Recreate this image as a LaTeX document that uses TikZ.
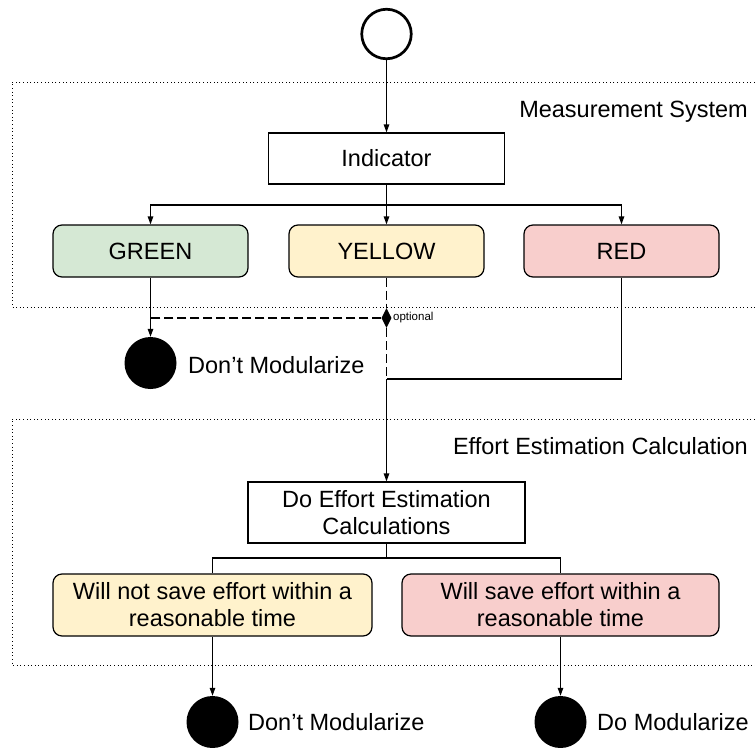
\documentclass[tikz,border=0pt]{standalone}
\usepackage{fontspec}
\setmainfont{Liberation Sans}
\usetikzlibrary{arrows.meta,shapes.geometric}
\definecolor{gfill}{HTML}{D5E8D4}
\definecolor{yfill}{HTML}{FFF2CC}
\definecolor{rfill}{HTML}{F8CECC}
\begin{document}
\begin{tikzpicture}[x=1pt,y=-1pt,
  every node/.style={font=\fontsize{23.5}{27}\selectfont},
  box/.style={draw, line width=1.2pt, inner sep=0pt, align=center},
  rbox/.style={box, rounded corners=9pt},
  conn/.style={line width=1.2pt},
  arr/.style={conn, -{Triangle[length=8pt,width=5.5pt]}},
  dsh/.style={conn, dash pattern=on 9pt off 4pt},
  frame/.style={line width=1pt, dash pattern=on 1pt off 2.6pt},
  endpt/.style={circle, fill=black, minimum size=52pt, inner sep=0pt},
  lbl/.style={inner sep=0pt},
]
\useasboundingbox (0,0) rectangle (755,747);

% frames
\draw[frame] (780,82) -- (12,82) -- (12,307) -- (780,307);
\draw[frame] (780,419) -- (12,419) -- (12,665) -- (780,665);
\node[lbl, anchor=base east] (ms) at (748,117) {Measurement System};
\node[lbl, anchor=base east] (ee) at (748,454) {Effort Estimation Calculation};

% start
\node[circle, draw, line width=2.7pt, minimum size=49.5pt, inner sep=0pt] (start) at (386.5,34) {};

% measurement system
\node[box, minimum width=236pt, minimum height=51pt] (ind) at (386.5,158.5) {Indicator};
\node[rbox, fill=gfill, minimum width=195pt, minimum height=52pt] (green) at (150.5,251) {GREEN};
\node[rbox, fill=yfill, minimum width=195pt, minimum height=52pt] (yellow) at (386.5,251) {YELLOW};
\node[rbox, fill=rfill, minimum width=195pt, minimum height=52pt] (red) at (621.5,251) {RED};

\draw[arr] (start) -- (ind);
\coordinate (b1) at (386.5,205);
\draw[conn] (ind) -- (b1);
\draw[arr] (b1) -| (green.north);
\draw[arr] (b1) -- (yellow);
\draw[arr] (b1) -| (red.north);

% optional path
\node[diamond, fill=black, inner sep=0pt, minimum width=10pt, minimum height=20pt] (dia) at (386.5,318) {};
\node[lbl, anchor=west, font=\fontsize{11.5}{13}\selectfont] (opt) at (393,318) {optional};
\coordinate (gj) at (150.5,318);
\coordinate (rj) at (386.5,379);
\draw[dsh] (yellow) -- (dia);
\draw[dsh] (dia) -- (gj);
\draw[dsh] (dia) -- (rj);

\node[endpt] (end1) at (150.5,363) {};
\node[lbl, anchor=base west] (l1) at (188,373) {Don’t Modularize};
\draw[arr] (green) -- (end1);

\draw[conn] (red) |- (rj);

% effort estimation
\node[box, minimum width=277pt, minimum height=61pt] (eff) at (386.5,512.5) {Do Effort Estimation\\Calculations};
\draw[arr] (rj) -- (eff);
\node[rbox, fill=yfill, minimum width=319pt, minimum height=62pt] (w1) at (212.5,605) {Will not save effort within a\\reasonable time};
\node[rbox, fill=rfill, minimum width=317pt, minimum height=62pt] (w2) at (560.5,605) {Will save effort within a\\reasonable time};
\coordinate (b2) at (386.5,558);
\draw[conn] (eff) -- (b2);
\draw[conn] (w1.north) |- (b2) -| (w2.north);

\node[endpt] (end2) at (212.5,722) {};
\node[endpt] (end3) at (560.5,722) {};
\draw[arr] (w1) -- (end2);
\draw[arr] (w2) -- (end3);
\node[lbl, anchor=base west] (l2) at (248,730) {Don’t Modularize};
\node[lbl, anchor=base west] (l3) at (597,730) {Do Modularize};
\end{tikzpicture}
\end{document}
